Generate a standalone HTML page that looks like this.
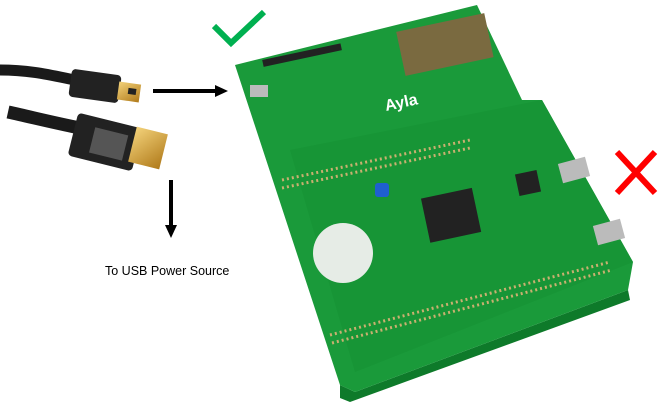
<!DOCTYPE html>
<html><head><meta charset="utf-8"><style>
html,body{margin:0;padding:0;background:#fff;width:666px;height:410px;overflow:hidden}
</style></head><body>
<svg width="666" height="410" viewBox="0 0 666 410" xmlns="http://www.w3.org/2000/svg">
<defs>
<marker id="ah" markerWidth="14" markerHeight="14" refX="7" refY="6" orient="auto" markerUnits="userSpaceOnUse">
<path d="M0,0 L13,6 L0,12 z" fill="#000"/></marker>
<linearGradient id="gold" x1="0" y1="0" x2="1" y2="1"><stop offset="0" stop-color="#f3d27a"/><stop offset="1" stop-color="#b07a1a"/></linearGradient>
</defs>
<!-- cables -->
<path d="M0,70 C30,70 50,75 75,80" stroke="#1a1a1a" stroke-width="11" fill="none"/>
<rect x="70" y="72" width="50" height="28" rx="4" fill="#222" transform="rotate(8 95 86)"/>
<rect x="118" y="83" width="22" height="18" fill="url(#gold)" transform="rotate(8 129 92)"/>
<rect x="128" y="88" width="8" height="6" fill="#222" transform="rotate(8 129 92)"/>
<path d="M8,112 C35,118 55,123 80,128" stroke="#1a1a1a" stroke-width="13" fill="none"/>
<rect x="72" y="120" width="66" height="44" rx="4" fill="#222" transform="rotate(14 105 142)"/>
<rect x="92" y="130" width="34" height="26" fill="#555" transform="rotate(14 105 142)"/>
<rect x="132" y="130" width="32" height="36" fill="url(#gold)" transform="rotate(14 148 148)"/>
<!-- arrows -->
<line x1="153" y1="91" x2="222" y2="91" stroke="#000" stroke-width="4" marker-end="url(#ah)"/>
<line x1="171" y1="180" x2="171" y2="232" stroke="#000" stroke-width="4" marker-end="url(#ah)"/>
<text x="105" y="275" font-family="'Liberation Sans',sans-serif" font-size="12.5" fill="#000">To USB Power Source</text>
<!-- check -->
<polyline points="214,26 231,43 264,12" fill="none" stroke="#00b050" stroke-width="6"/>
<!-- X -->
<line x1="617" y1="152" x2="655" y2="193" stroke="#ff0000" stroke-width="6"/>
<line x1="655" y1="152" x2="617" y2="193" stroke="#ff0000" stroke-width="6"/>
<!-- board -->
<polygon points="340,385 355,392 628,290 630,300 350,402 340,398" fill="#0e7a2a"/>
<polygon points="235,65 477,5 522,100 542,100 633,262 628,290 355,392 340,385" fill="#1a9a3a"/>
<polygon points="290,150 542,100 633,262 355,372" fill="#179536"/>
<rect x="400" y="22" width="90" height="45" fill="#7a6a40" transform="rotate(-12 445 45)"/>
<circle cx="343" cy="253" r="30" fill="#e6ece6"/>
<rect x="425" y="193" width="52" height="45" fill="#222" transform="rotate(-12 450 215)"/>
<rect x="517" y="172" width="22" height="22" fill="#222" transform="rotate(-12 528 183)"/>
<rect x="375" y="183" width="14" height="14" rx="3" fill="#1f5fcf"/>
<rect x="560" y="160" width="28" height="20" fill="#bbb" transform="rotate(-15 574 170)"/>
<rect x="595" y="222" width="28" height="20" fill="#bbb" transform="rotate(-15 609 232)"/>
<rect x="250" y="85" width="18" height="12" fill="#bbb"/>
<g stroke="#c9b070" stroke-width="3" stroke-dasharray="2 3">
<line x1="282" y1="180" x2="470" y2="140"/><line x1="282" y1="188" x2="470" y2="148"/>
<line x1="330" y1="335" x2="610" y2="262"/><line x1="332" y1="343" x2="612" y2="270"/>
</g>
<rect x="262" y="52" width="80" height="7" fill="#222" transform="rotate(-12 300 55)"/>
<text x="385" y="108" font-family="'Liberation Sans',sans-serif" font-size="16" font-weight="bold" fill="#fff" transform="rotate(-12 400 105)">Ayla</text>
</svg>
</body></html>
